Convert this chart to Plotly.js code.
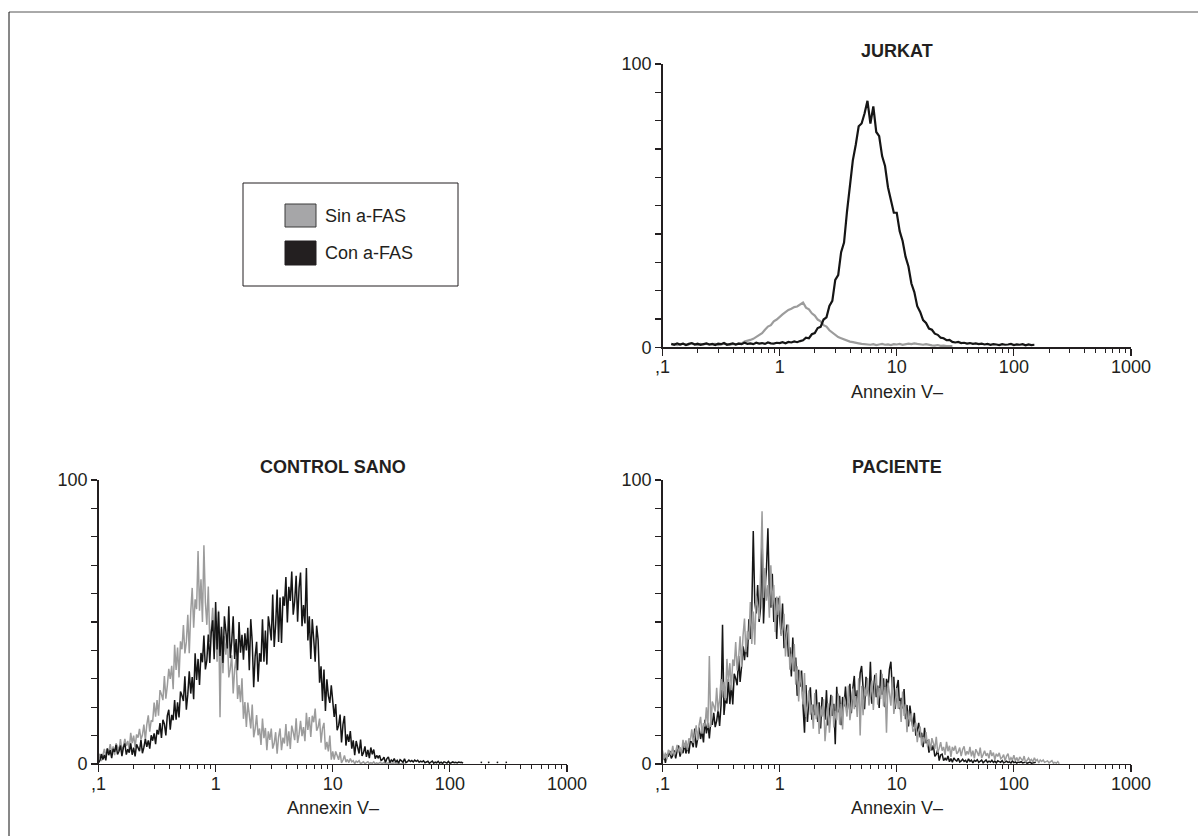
<!DOCTYPE html>
<html>
<head>
<meta charset="utf-8">
<script src="https://cdn.plot.ly/plotly-3.0.1.min.js"></script>
<style>
  html, body { margin: 0; padding: 0; background: #ffffff; }
  #chart { width: 1198px; height: 836px; }
</style>
</head>
<body>
<div id="chart"></div>
<script>
// ---------- DATA ----------
// Histogram channels: log10(value) starts at -1; JURKAT uses 40 channels / decade,
// CONTROL SANO and PACIENTE use 80 channels / decade.
const channelLogStart = -1;
const jurkatLogStep = 0.025;
const fineLogStep = 0.0125;

const seriesNames = ["Sin a-FAS", "Con a-FAS"];
const panelTitles = ["CONTROL SANO", "JURKAT", "PACIENTE"];
const axisTitle = "Annexin V\u2013";

const xMajorVals = [0.1, 1, 10, 100, 1000];
const xMajorText = [",1", "1", "10", "100", "1000"];
const xMinorMultipliers = [2, 3, 4, 5, 6, 7, 8, 9];
const yTickVals = [0, 10, 20, 30, 40, 50, 60, 70, 80, 90, 100];
const yTickText = ["0", "", "", "", "", "", "", "", "", "", "100"];

// JURKAT (40 channels / decade)
const jurkatSin = [
  null,null,null,1.0,1.2,0.8,1.1,1.3,0.9,1.0,
  1.4,1.1,0.8,1.2,1.0,1.3,0.9,1.1,1.2,0.8,
  1.0,1.3,1.1,0.9,1.2,1.0,1.4,1.3,2.0,2.2,
  2.6,3.0,3.6,4.4,5.0,6.2,7.3,7.8,9.2,9.8,
  10.8,11.6,12.4,13.2,13.6,14.2,14.4,15.2,15.8,14.0,
  13.4,12.0,11.2,9.8,9.2,7.8,7.3,6.0,5.2,4.4,
  3.6,3.2,2.8,2.3,2.0,1.8,1.5,1.4,1.2,1.1,
  1.0,0.9,1.1,0.8,1.0,1.2,0.9,1.0,0.8,1.1,
  1.0,1.2,0.9,1.0,1.3,1.1,1.4,1.2,1.0,0.9,
  1.1,0.8,0.7,0.6,0.8,0.5,0.6,0.4,0.5,0.4
];
const jurkatCon = [
  null,null,null,1.2,0.9,1.4,1.0,1.3,0.8,1.2,
  1.5,1.0,1.3,0.9,1.1,1.4,1.0,1.2,0.8,1.3,
  1.1,1.5,0.9,1.2,1.4,1.0,1.3,1.1,1.6,1.2,
  1.4,1.1,1.6,1.3,1.5,1.2,1.7,1.4,1.3,1.6,
  1.5,1.8,1.4,1.9,1.7,2.1,1.8,2.2,2.5,3.4,
  3.2,4.6,5.0,6.8,7.2,9.8,10.6,14.6,16.4,23.8,
  25.5,33.6,37.0,47.8,56.0,66.0,71.5,78.0,79.0,82.5,
  87.0,79.0,85.0,76.0,74.5,67.5,64.0,56.5,52.0,47.5,
  47.5,41.0,37.5,32.0,28.5,22.5,19.5,14.5,12.5,9.6,
  8.6,6.6,6.2,4.8,4.4,3.4,3.2,2.5,2.6,1.9,
  1.7,1.9,1.5,1.6,1.3,1.5,1.2,1.4,1.1,1.3,
  1.0,1.2,0.9,1.1,1.0,0.8,1.1,0.9,1.0,1.2,
  0.8,1.0,0.9,1.1,0.7,1.0,0.8,0.9
];

// CONTROL SANO (80 channels / decade)
const controlSin = [
  1.6,3.6,1.0,3.7,5.3,2.8,5.2,4.3,7.0,3.9,
  6.2,3.1,7.3,6.1,4.7,8.8,4.5,6.3,8.8,6.3,
  8.1,5.05,11.0,7.35,10.0,5.9,10.4,9.3,12.4,8.7,
  10.2,13.9,8.4,13.9,17.1,11.4,15.4,14.9,21.6,16.7,
  22.5,17.0,26.0,24.5,22.5,31.0,23.0,27.5,33.5,30.0,
  34.6,26.3,42.0,33.1,41.0,30.5,43.2,40.4,48.9,38.9,
  43.0,52.5,39.0,53.5,62.0,48.0,58.0,54.5,75.0,54.0,
  65.0,50.0,77.0,57.0,49.0,62.5,43.0,47.5,55.0,43.0,
  48.0,36.0,54.0,16.5,47.5,32.0,45.0,38.5,46.0,30.5,
  33.4,38.3,24.8,33.4,37.2,22.9,27.8,21.8,30.2,15.9,
  21.8,13.0,21.6,17.3,12.5,20.9,9.4,12.4,17.2,10.1,
  12.5,6.7,16.0,9.1,12.7,4.9,11.5,8.5,12.5,5.4,
  7.3,11.2,3.6,9.5,12.5,4.9,9.3,7.2,14.1,6.3,
  11.5,5.3,13.5,11.2,8.4,16.1,7.4,10.5,15.2,9.8,
  13.0,8.0,18.0,12.0,16.5,9.5,17.0,14.7,19.5,11.7,
  13.0,16.0,7.5,12.5,14.5,5.1,7.8,4.4,10.0,1.5,
  4.4,1.5,4.4,3.0,1.5,4.2,0.4,1.4,3.0,0.7,
  1.6,0.5,1.9,0.8,1.2,0.1,1.0,0.6,1.2,0.1,
  0.47,0.77,0.14,0.6,0.82,0.16,0.46,0.24,0.74,0.08,
  0.43,0.09,0.48,0.35,0.19,0.55,0.1,0.24,0.46,0.18,
  0.3,0.13,0.42,0.2,0.3,0.08,0.28,0.2,0.32,0.12
];
const controlCon = [
  0.4,1.3,3.5,1.6,3.2,1.3,5.5,3.1,4.9,2.1,
  5.3,4.3,6.7,3.4,4.5,6.5,2.8,5.8,7.2,3.3,
  5.25,4.0,7.25,3.25,5.75,2.7,6.9,5.85,4.55,8.5,
  3.8,5.9,8.8,6.0,8.3,5.4,10.1,8.2,10.8,7.0,
  12.0,10.4,14.4,9.2,15.6,14.1,10.1,17.0,19.1,12.1,
  17.3,15.4,22.5,15.6,21.7,16.4,25.5,24.1,22.2,30.9,
  19.1,24.6,32.6,24.8,30.6,22.8,39.0,29.6,37.0,27.8,
  39.1,35.8,45.2,33.3,36.5,45.6,35.6,46.2,50.6,36.9,
  57.0,40.3,53.6,38.0,48.3,35.6,52.0,46.8,40.7,55.5,
  37.3,43.2,52.0,37.0,44.0,33.0,50.0,39.2,45.5,36.7,
  46.0,40.0,48.0,33.0,51.0,43.0,27.0,38.0,43.0,29.0,
  39.0,36.0,51.0,36.0,47.0,35.0,52.0,48.2,43.5,59.7,
  41.2,49.0,61.4,43.0,58.6,42.6,59.0,55.7,65.8,49.8,
  62.4,57.4,67.8,52.6,57.3,66.3,50.1,62.0,67.4,48.5,
  56.0,49.5,69.0,43.5,52.0,37.0,51.0,44.0,36.0,48.7,
  43.7,28.6,34.4,22.2,33.3,18.7,29.8,24.0,21.5,27.7,
  20.4,16.6,21.1,11.9,13.5,17.4,7.6,14.0,16.9,6.5,
  10.4,7.8,11.6,5.4,8.3,3.1,8.1,6.0,3.7,8.6,
  2.8,4.0,6.2,2.5,5.0,2.1,5.8,3.4,5.1,1.9,
  3.0,2.2,3.0,1.2,1.6,2.4,0.5,1.9,2.5,0.5,
  1.4,0.9,1.9,0.6,1.3,0.3,1.5,1.1,0.6,1.8,
  0.5,0.8,1.4,0.85,1.2,0.7,1.35,0.95,1.3,0.6,
  0.98,0.73,1.15,0.45,0.6,0.95,0.25,0.8,1.05,0.3,
  0.64,0.44,0.95,0.3,0.65,0.2,0.77,0.57,0.32,0.9,
  0.26,0.44,0.72,0.45,0.62,0.37,0.68,0.5,0.6,0.3,
  null,null,null,null,null,null,null,null,null,null,
  null,0.6,0.5,null,null,null,0.5,0.6,null,null,
  null,null,0.6,0.5,null,null,null,null,0.5,0.6
];

// PACIENTE (80 channels / decade)
const pacienteSin = [
  4.8,1.8,4.0,1.6,5.0,4.2,3.2,6.4,2.9,4.3,
  6.7,4.1,5.9,3.5,8.5,5.7,8.3,5.0,9.0,8.2,
  12.2,7.4,9.7,13.6,8.4,13.7,16.6,10.7,14.4,13.2,
  20.0,12.7,38.0,13.0,22.0,20.5,18.5,26.8,18.5,22.7,
  29.9,23.4,28.9,22.4,37.0,28.9,35.5,26.0,36.8,34.5,
  42.9,32.9,37.4,45.0,34.3,45.1,51.2,39.4,46.8,43.8,
  57.0,42.3,53.7,42.0,59.3,55.7,51.0,67.5,89.0,58.5,
  69.0,57.5,63.0,51.5,70.0,56.0,63.0,46.5,59.0,52.5,
  59.2,45.1,47.2,52.9,37.9,46.2,49.1,33.2,38.9,32.9,
  42.2,27.9,34.4,22.0,32.8,27.3,21.0,32.0,16.6,20.4,
  25.9,17.4,20.9,12.4,25.0,15.8,21.2,10.6,20.3,16.7,
  22.8,8.0,15.6,21.4,11.0,19.6,24.0,12.9,18.7,15.4,
  24.8,13.8,21.1,12.2,23.7,20.6,16.7,27.6,15.4,20.0,
  26.6,19.3,23.9,16.6,30.2,10.0,27.5,17.2,27.1,23.8,
  30.3,20.6,23.6,29.4,19.0,27.6,32.0,20.9,26.7,22.9,
  31.8,20.3,27.1,11.0,28.7,24.9,20.5,30.6,17.6,21.5,
  26.7,19.4,22.2,14.8,25.5,16.9,21.0,11.2,18.7,14.9,
  17.9,11.4,12.2,14.6,7.7,11.7,13.2,6.5,9.5,7.2,
  11.2,6.1,8.8,4.6,9.1,7.4,5.3,9.6,4.0,5.5,
  7.7,4.7,6.0,3.2,7.8,4.5,6.4,2.5,6.0,4.7,
  6.4,3.6,4.3,5.8,2.8,5.1,6.2,3.0,4.5,3.4,
  6.0,2.7,4.7,2.0,5.2,4.1,2.8,5.8,2.1,3.3,
  4.7,2.9,3.8,2.0,4.9,2.8,4.0,1.5,3.6,2.7,
  3.9,1.9,2.3,3.3,1.1,2.8,3.6,1.2,2.2,1.4,
  3.1,1.1,2.3,0.8,2.5,1.8,1.1,2.8,0.6,1.3,
  2.1,1.2,1.6,0.7,2.2,1.1,1.6,0.4,1.4,0.9,
  1.4,0.6,0.8,1.1,0.4,0.9,1.2,0.3,0.6,0.3,
  0.85,0.1
];
const pacienteCon = [
  1.4,3.2,0.4,3.4,2.6,4.6,2.0,3.0,4.8,2.0,
  4.8,6.5,2.6,4.9,3.8,7.2,3.7,6.5,3.7,8.1,
  7.7,5.9,12.5,5.8,8.8,12.8,8.8,11.6,7.6,15.6,
  10.8,14.5,9.0,15.2,13.8,18.0,13.0,15.2,19.1,13.4,
  20.8,49.0,17.3,23.2,21.3,29.9,21.1,27.9,21.0,31.8,
  30.1,27.7,38.0,28.9,34.3,41.4,36.6,42.2,37.6,51.0,
  44.0,54.5,82.0,57.0,53.0,63.0,50.0,55.0,80.0,49.5,
  62.0,68.5,83.0,60.5,55.0,67.0,50.0,58.5,44.0,58.5,
  51.8,45.7,56.5,40.8,44.4,49.1,37.8,41.1,30.8,44.5,
  32.6,37.5,24.0,33.2,27.2,32.9,20.2,11.0,27.8,14.8,
  23.1,27.0,15.6,20.9,17.2,26.2,14.8,21.7,12.5,23.6,
  19.9,15.6,26.0,13.6,17.9,24.4,16.9,21.2,7.0,27.2,
  18.2,24.0,13.7,23.6,20.3,27.3,18.3,21.8,28.2,17.9,
  26.6,31.0,20.1,25.9,22.7,32.0,34.5,28.3,19.3,30.7,
  27.4,23.3,36.0,21.2,25.3,31.4,23.5,27.6,19.7,33.2,
  24.4,30.2,20.0,30.0,26.8,33.3,36.0,25.8,30.7,19.4,
  26.8,29.6,19.3,23.3,19.6,26.4,15.8,20.8,13.2,20.6,
  16.4,13.0,18.0,10.0,11.7,14.5,9.4,11.0,5.9,12.7,
  7.3,8.4,4.0,6.7,4.8,6.6,2.7,3.4,5.0,1.2,
  3.2,3.5,1.2,2.0,1.3,2.8,0.8,1.9,0.6,2.1,
  1.4,1.0,2.0,0.7,1.1,1.7,0.9,1.3,0.5,1.8,
  0.9,1.35,0.4,1.3,0.95,1.5,0.6,0.9,1.35,0.45,
  1.1,1.4,0.6,1.0,0.7,1.3,0.55,1.0,0.4,1.15,
  0.85,0.6,1.2,0.4,0.65,1.0,0.55,0.75,0.35,1.05,
  0.5,0.75,0.3,0.7,0.55,0.8,0.4,0.5,0.7,0.25,
  0.5,0.65,0.3,0.45,0.35,0.6
];

// ---------- STYLE ----------
const W = 1198, H = 836;
const INK = "#231f20";
const GRAY = "#9c9c9c";
const BLACK = "#151515";
const FONT = "Liberation Sans, Arial, Helvetica, sans-serif";

const px = v => v / W;
const py = v => 1 - v / H;

function channelX(arr, step) {
  return arr.map((_, i) => Math.pow(10, channelLogStart + i * step));
}
function lineTrace(values, step, name, color, xa, ya, width) {
  return {
    type: "scatter", mode: "lines", name: name,
    x: channelX(values, step), y: values,
    xaxis: xa, yaxis: ya,
    line: { color: color, width: width, shape: "linear" },
    connectgaps: false, showlegend: false, hoverinfo: "skip"
  };
}

const traces = [
  lineTrace(controlSin, fineLogStep, seriesNames[0], GRAY, "x", "y", 1.5),
  lineTrace(controlCon, fineLogStep, seriesNames[1], BLACK, "x", "y", 1.5),
  lineTrace(jurkatSin, jurkatLogStep, seriesNames[0], GRAY, "x2", "y2", 2.2),
  lineTrace(jurkatCon, jurkatLogStep, seriesNames[1], BLACK, "x2", "y2", 2.2),
  lineTrace(pacienteCon, fineLogStep, seriesNames[1], BLACK, "x3", "y3", 1.5),
  lineTrace(pacienteSin, fineLogStep, seriesNames[0], GRAY, "x3", "y3", 1.5)
];

const xMinorVals = [];
[0.1, 1, 10, 100].forEach(d => xMinorMultipliers.forEach(m => xMinorVals.push(+(d * m).toPrecision(3))));

const tickFont = { family: FONT, size: 18, color: INK };

function xAxis(domain, anchor) {
  return {
    domain: domain, anchor: anchor, type: "log", range: [-1, 3],
    tickmode: "array", tickvals: xMajorVals, ticktext: xMajorText,
    ticks: "outside", ticklen: 7, tickwidth: 1.2, tickcolor: INK,
    ticklabelstandoff: -4,
    showline: true, linecolor: INK, linewidth: 1.3,
    showgrid: false, zeroline: false, tickfont: tickFont,
    minor: { tickmode: "array", tickvals: xMinorVals, ticks: "outside", ticklen: 4, tickwidth: 1, tickcolor: INK, showgrid: false },
    fixedrange: true
  };
}
function yAxis(domain, anchor) {
  return {
    domain: domain, anchor: anchor, range: [0, 100],
    tickmode: "array", tickvals: yTickVals, ticktext: yTickText,
    ticks: "outside", ticklen: 6, tickwidth: 1.2, tickcolor: INK,
    showline: true, linecolor: INK, linewidth: 1.3,
    showgrid: false, zeroline: false, tickfont: tickFont,
    fixedrange: true
  };
}

const leftX = [px(98.5), px(567)];
const rightX = [px(662.5), px(1131)];
const topY = [py(347.3), py(64)];
const botY = [py(764), py(480)];

const annotations = [];
function addText(text, x, y, opts) {
  annotations.push(Object.assign({
    text: text, x: px(x), y: py(y), xref: "paper", yref: "paper",
    showarrow: false, xanchor: "center", yanchor: "middle",
    font: { family: FONT, size: 18, color: INK }
  }, opts || {}));
}
// panel titles
addText("<b>" + panelTitles[0] + "</b>", (98.5 + 567) / 2, 467);
addText("<b>" + panelTitles[1] + "</b>", (662.5 + 1131) / 2, 51);
addText("<b>" + panelTitles[2] + "</b>", (662.5 + 1131) / 2, 467);
// axis titles
addText(axisTitle, (98.5 + 567) / 2, 808);
addText(axisTitle, (662.5 + 1131) / 2, 392);
addText(axisTitle, (662.5 + 1131) / 2, 808);
// legend text
addText(seriesNames[0], 323, 216, { xanchor: "left" });
addText(seriesNames[1], 323, 253, { xanchor: "left" });

const shapes = [
  // figure frame (top and left edges visible)
  { type: "line", xref: "paper", yref: "paper", x0: px(9), x1: 1, y0: py(12), y1: py(12), line: { color: "#555555", width: 1 } },
  { type: "line", xref: "paper", yref: "paper", x0: px(9), x1: px(9), y0: py(12), y1: 0, line: { color: "#111111", width: 1 } },
  // legend box
  { type: "rect", xref: "paper", yref: "paper", x0: px(243), x1: px(458), y0: py(286), y1: py(183), line: { color: INK, width: 1 }, fillcolor: "rgba(0,0,0,0)" },
  // legend swatches
  { type: "rect", xref: "paper", yref: "paper", x0: px(285), x1: px(316), y0: py(227), y1: py(204), line: { color: "#3a3a3a", width: 1 }, fillcolor: "#a6a6a8" },
  { type: "rect", xref: "paper", yref: "paper", x0: px(285), x1: px(316), y0: py(265), y1: py(241), line: { color: INK, width: 1 }, fillcolor: INK }
];

const layout = {
  width: W, height: H,
  margin: { l: 0, r: 0, t: 0, b: 0 },
  paper_bgcolor: "#ffffff", plot_bgcolor: "#ffffff",
  showlegend: false,
  xaxis: xAxis(leftX, "y"), yaxis: yAxis(botY, "x"),
  xaxis2: xAxis(rightX, "y2"), yaxis2: yAxis(topY, "x2"),
  xaxis3: xAxis(rightX, "y3"), yaxis3: yAxis(botY, "x3"),
  annotations: annotations,
  shapes: shapes
};

Plotly.newPlot("chart", traces, layout, { staticPlot: true, displayModeBar: false });
</script>
</body>
</html>
